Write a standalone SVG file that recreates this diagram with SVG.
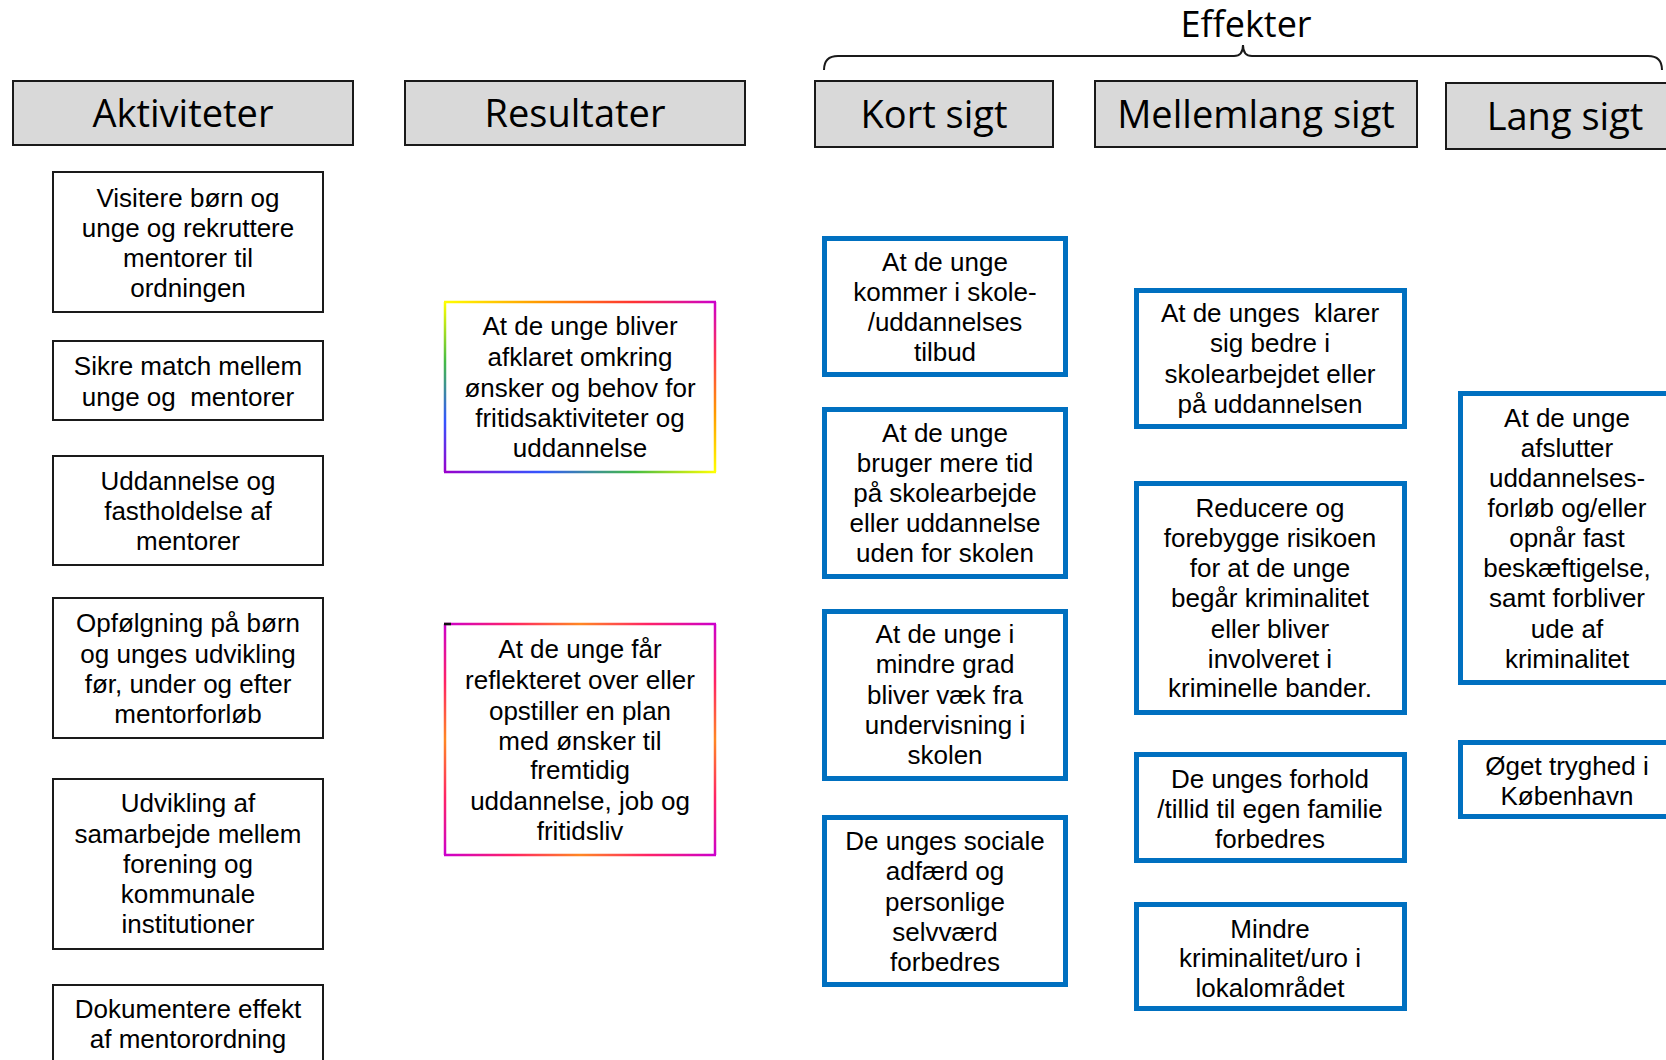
<svg xmlns="http://www.w3.org/2000/svg" width="1666" height="1060" viewBox="0 0 1666 1060">
<defs>
<style>
.hdr{fill:#D9D9D9;stroke:#1a1a1a;stroke-width:2}
.ht{font-family:"Open Sans","Liberation Sans",sans-serif;font-size:38px;fill:#000;text-anchor:middle}
.act{fill:#fff;stroke:#1a1a1a;stroke-width:2}
.eff{fill:#fff;stroke:#0070C0;stroke-width:5}
.t{font-family:"Liberation Sans",Arial,sans-serif;font-size:26px;fill:#000;text-anchor:middle;white-space:pre}
.rb{stroke-width:2.5;fill:none}
</style>
<linearGradient id="g1top" gradientUnits="userSpaceOnUse" x1="445" y1="0" x2="715" y2="0">
<stop offset="0" stop-color="#FFFF00"/><stop offset="0.35" stop-color="#FF9900"/><stop offset="0.7" stop-color="#FF3333"/><stop offset="1" stop-color="#CC00CC"/></linearGradient>
<linearGradient id="g1right" gradientUnits="userSpaceOnUse" x1="0" y1="302" x2="0" y2="472">
<stop offset="0" stop-color="#CC00CC"/><stop offset="0.3" stop-color="#FF3355"/><stop offset="0.65" stop-color="#FF9900"/><stop offset="1" stop-color="#FFFF00"/></linearGradient>
<linearGradient id="g1bot" gradientUnits="userSpaceOnUse" x1="445" y1="0" x2="715" y2="0">
<stop offset="0" stop-color="#9900CC"/><stop offset="0.35" stop-color="#3355FF"/><stop offset="0.7" stop-color="#44BB44"/><stop offset="1" stop-color="#FFFF00"/></linearGradient>
<linearGradient id="g1left" gradientUnits="userSpaceOnUse" x1="0" y1="302" x2="0" y2="472">
<stop offset="0" stop-color="#FFFF00"/><stop offset="0.35" stop-color="#44BB44"/><stop offset="0.7" stop-color="#3355FF"/><stop offset="1" stop-color="#9900CC"/></linearGradient>
<linearGradient id="g2h" gradientUnits="userSpaceOnUse" x1="445" y1="0" x2="715" y2="0">
<stop offset="0" stop-color="#CC00CC"/><stop offset="0.25" stop-color="#FF2266"/><stop offset="0.5" stop-color="#FF8822"/><stop offset="0.75" stop-color="#FF2266"/><stop offset="1" stop-color="#CC00CC"/></linearGradient>
<linearGradient id="g2v" gradientUnits="userSpaceOnUse" x1="0" y1="624" x2="0" y2="855">
<stop offset="0" stop-color="#CC00CC"/><stop offset="0.25" stop-color="#FF2266"/><stop offset="0.5" stop-color="#FF8822"/><stop offset="0.75" stop-color="#FF2266"/><stop offset="1" stop-color="#CC00CC"/></linearGradient>
</defs>
<rect width="1666" height="1060" fill="#fff"/>

<g id="connectors">
<path d="M824,70 Q824,56 838,56 L1234,56 Q1243,56 1243,45 Q1243,56 1252,56 L1648,56 Q1662,56 1662,70" fill="none" stroke="#1a1a1a" stroke-width="2"/>
</g>

<g id="effekter-label"><text x="1246" y="37" class="ht" style="font-size:36px">Effekter</text></g>

<g id="hdr-aktiviteter"><rect class="hdr" x="13" y="81" width="340" height="64"/><text class="ht" x="183" y="127">Aktiviteter</text></g>
<g id="hdr-resultater"><rect class="hdr" x="405" y="81" width="340" height="64"/><text class="ht" x="575" y="127">Resultater</text></g>
<g id="hdr-kort"><rect class="hdr" x="815" y="81" width="238" height="66"/><text class="ht" x="934" y="128">Kort sigt</text></g>
<g id="hdr-mellem"><rect class="hdr" x="1095" y="81" width="322" height="66"/><text class="ht" x="1256" y="128">Mellemlang sigt</text></g>
<g id="hdr-lang"><rect class="hdr" x="1446" y="83" width="240" height="66"/><text class="ht" x="1565" y="130">Lang sigt</text></g>

<g id="a1"><rect class="act" x="53" y="172" width="270" height="140"/>
<text class="t" x="188" y="207">Visitere børn og</text><text class="t" x="188" y="237">unge og rekruttere</text><text class="t" x="188" y="267">mentorer til</text><text class="t" x="188" y="297">ordningen</text></g>
<g id="a2"><rect class="act" x="53" y="341" width="270" height="79"/>
<text class="t" x="188" y="375">Sikre match mellem</text><text class="t" x="188" y="406">unge og  mentorer</text></g>
<g id="a3"><rect class="act" x="53" y="456" width="270" height="109"/>
<text class="t" x="188" y="490">Uddannelse og</text><text class="t" x="188" y="520">fastholdelse af</text><text class="t" x="188" y="550">mentorer</text></g>
<g id="a4"><rect class="act" x="53" y="598" width="270" height="140"/>
<text class="t" x="188" y="632">Opfølgning på børn</text><text class="t" x="188" y="663">og unges udvikling</text><text class="t" x="188" y="693">før, under og efter</text><text class="t" x="188" y="723">mentorforløb</text></g>
<g id="a5"><rect class="act" x="53" y="779" width="270" height="170"/>
<text class="t" x="188" y="812">Udvikling af</text><text class="t" x="188" y="843">samarbejde mellem</text><text class="t" x="188" y="873">forening og</text><text class="t" x="188" y="903">kommunale</text><text class="t" x="188" y="933">institutioner</text></g>
<g id="a6"><rect class="act" x="53" y="985" width="270" height="100"/>
<text class="t" x="188" y="1018">Dokumentere effekt</text><text class="t" x="188" y="1048">af mentorordning</text></g>

<g id="r1"><rect x="445" y="302" width="270" height="170" fill="#fff"/>
<line class="rb" x1="444" y1="302" x2="716" y2="302" stroke="url(#g1top)"/>
<line class="rb" x1="715" y1="302" x2="715" y2="472" stroke="url(#g1right)"/>
<line class="rb" x1="444" y1="472" x2="716" y2="472" stroke="url(#g1bot)"/>
<line class="rb" x1="445" y1="302" x2="445" y2="472" stroke="url(#g1left)"/>
<text class="t" x="580" y="335">At de unge bliver</text><text class="t" x="580" y="366">afklaret omkring</text><text class="t" x="580" y="397">ønsker og behov for</text><text class="t" x="580" y="427">fritidsaktiviteter og</text><text class="t" x="580" y="457">uddannelse</text></g>
<g id="r2"><rect x="445" y="624" width="270" height="231" fill="#fff"/>
<line class="rb" x1="444" y1="624" x2="716" y2="624" stroke="url(#g2h)"/>
<line class="rb" x1="715" y1="624" x2="715" y2="855" stroke="url(#g2v)"/>
<line class="rb" x1="444" y1="855" x2="716" y2="855" stroke="url(#g2h)"/>
<line class="rb" x1="445" y1="624" x2="445" y2="855" stroke="url(#g2v)"/>
<line x1="444" y1="624" x2="451" y2="624" stroke="#111" stroke-width="2.5"/>
<text class="t" x="580" y="658">At de unge får</text><text class="t" x="580" y="689">reflekteret over eller</text><text class="t" x="580" y="720">opstiller en plan</text><text class="t" x="580" y="750">med ønsker til</text><text class="t" x="580" y="779">fremtidig</text><text class="t" x="580" y="810">uddannelse, job og</text><text class="t" x="580" y="840">fritidsliv</text></g>

<g id="k1"><rect class="eff" x="824.5" y="238.5" width="241" height="136"/>
<text class="t" x="945" y="271">At de unge</text><text class="t" x="945" y="301">kommer i skole-</text><text class="t" x="945" y="331">/uddannelses</text><text class="t" x="945" y="361">tilbud</text></g>
<g id="k2"><rect class="eff" x="824.5" y="409.5" width="241" height="167"/>
<text class="t" x="945" y="442">At de unge</text><text class="t" x="945" y="472">bruger mere tid</text><text class="t" x="945" y="502">på skolearbejde</text><text class="t" x="945" y="532">eller uddannelse</text><text class="t" x="945" y="562">uden for skolen</text></g>
<g id="k3"><rect class="eff" x="824.5" y="611.5" width="241" height="167"/>
<text class="t" x="945" y="643">At de unge i</text><text class="t" x="945" y="673">mindre grad</text><text class="t" x="945" y="704">bliver væk fra</text><text class="t" x="945" y="734">undervisning i</text><text class="t" x="945" y="764">skolen</text></g>
<g id="k4"><rect class="eff" x="824.5" y="817.5" width="241" height="167"/>
<text class="t" x="945" y="850">De unges sociale</text><text class="t" x="945" y="880">adfærd og</text><text class="t" x="945" y="911">personlige</text><text class="t" x="945" y="941">selvværd</text><text class="t" x="945" y="971">forbedres</text></g>

<g id="m1"><rect class="eff" x="1136.5" y="290.5" width="268" height="136"/>
<text class="t" x="1270" y="322">At de unges  klarer</text><text class="t" x="1270" y="352">sig bedre i</text><text class="t" x="1270" y="383">skolearbejdet eller</text><text class="t" x="1270" y="413">på uddannelsen</text></g>
<g id="m2"><rect class="eff" x="1136.5" y="483.5" width="268" height="229"/>
<text class="t" x="1270" y="517">Reducere og</text><text class="t" x="1270" y="547">forebygge risikoen</text><text class="t" x="1270" y="577">for at de unge</text><text class="t" x="1270" y="607">begår kriminalitet</text><text class="t" x="1270" y="638">eller bliver</text><text class="t" x="1270" y="668">involveret i</text><text class="t" x="1270" y="697">kriminelle bander.</text></g>
<g id="m3"><rect class="eff" x="1136.5" y="754.5" width="268" height="106"/>
<text class="t" x="1270" y="788">De unges forhold</text><text class="t" x="1270" y="818">/tillid til egen familie</text><text class="t" x="1270" y="848">forbedres</text></g>
<g id="m4"><rect class="eff" x="1136.5" y="904.5" width="268" height="104"/>
<text class="t" x="1270" y="938">Mindre</text><text class="t" x="1270" y="967">kriminalitet/uro i</text><text class="t" x="1270" y="997">lokalområdet</text></g>

<g id="l1"><rect class="eff" x="1460.5" y="393.5" width="240" height="289"/>
<text class="t" x="1567" y="427">At de unge</text><text class="t" x="1567" y="457">afslutter</text><text class="t" x="1567" y="487">uddannelses-</text><text class="t" x="1567" y="517">forløb og/eller</text><text class="t" x="1567" y="547">opnår fast</text><text class="t" x="1567" y="577">beskæftigelse,</text><text class="t" x="1567" y="607">samt forbliver</text><text class="t" x="1567" y="638">ude af</text><text class="t" x="1567" y="668">kriminalitet</text></g>
<g id="l2"><rect class="eff" x="1460.5" y="742.5" width="240" height="74"/>
<text class="t" x="1567" y="775">Øget tryghed i</text><text class="t" x="1567" y="805">København</text></g>
</svg>
